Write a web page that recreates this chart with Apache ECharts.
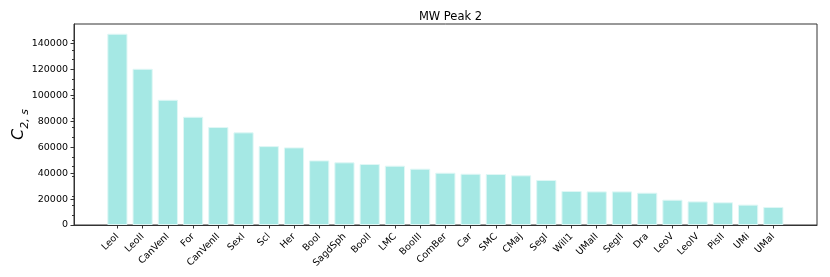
<!DOCTYPE html>
<html>
<head>
<meta charset="utf-8">
<script src="https://cdn.jsdelivr.net/npm/echarts@6/dist/echarts.min.js"></script>
<style>html,body{margin:0;padding:0;background:#fff}#c{width:830px;height:277px}</style>
</head>
<body>
<div id="c"></div>
<script>
const categories = ["LeoI","LeoII","CanVenI","For","CanVenII","SexI","Scl","Her","BooI","SagdSph","BooII","LMC","BooIII","ComBer","Car","SMC","CMaj","SegI","Will1","UMaII","SegII","Dra","LeoV","LeoIV","PisII","UMi","UMaI"];
const values = [147400,120400,96500,83400,75500,71400,60800,59800,49800,48300,47000,45700,43400,40300,39500,39300,38300,34700,26200,25900,25900,24900,19500,18200,17500,15700,13900];
const yTicks = [0,20000,40000,60000,80000,100000,120000,140000];
const titleText = "MW Peak 2";

const W = 830, H = 277;
const gridL = 74, gridR = 13, gridT = 24, gridB = 52;
const xMin = -1.72, xMax = categories.length - 1 + 1.73;
const yMax = 154900;
const plotW = W - gridL - gridR;
const barPx = 0.8 * plotW / (xMax - xMin);
const font = "DejaVu Sans";
const axisColor = '#333';
const catIdx = categories.map((_, i) => i);

const chart = echarts.init(document.getElementById('c'), null, {renderer: 'canvas'});
chart.setOption({
  animation: false,
  backgroundColor: '#fff',
  title: {
    text: titleText, left: gridL + plotW / 2, top: 6, textAlign: 'center',
    textStyle: {fontFamily: font, fontSize: 11.5, fontWeight: 'normal', color: '#000'}
  },
  grid: {left: gridL, right: gridR, top: gridT, bottom: gridB, containLabel: false, outerBoundsMode: 'none',
         show: true, borderColor: axisColor, borderWidth: 1, backgroundColor: 'transparent'},
  xAxis: {
    type: 'value', min: xMin, max: xMax,
    splitLine: {show: false},
    axisLine: {show: true, onZero: false, lineStyle: {color: axisColor}},
    axisTick: {show: true, customValues: catIdx, length: 3.5, inside: false, lineStyle: {color: axisColor}},
    axisLabel: {
      customValues: catIdx,
      formatter: v => categories[Math.round(v)] || '',
      rotate: 45, fontFamily: font, fontSize: 9.5, color: '#000', margin: 10,
      showMinLabel: true, showMaxLabel: true, hideOverlap: false
    }
  },
  yAxis: {
    type: 'value', min: 0, max: yMax,
    splitLine: {show: false},
    axisLine: {show: true, onZero: false, lineStyle: {color: axisColor}},
    axisTick: {show: true, customValues: yTicks, length: 3.5, lineStyle: {color: axisColor}},
    minorTick: {show: true, splitNumber: 4, length: 2, lineStyle: {color: axisColor}},
    axisLabel: {customValues: yTicks, formatter: v => String(v), fontFamily: font, fontSize: 9.5, color: '#000', margin: 6},
    name: '{c|C}{s|2, s}',
    nameLocation: 'middle', nameGap: 47, nameRotate: 90, nameMoveOverlap: false,
    nameTextStyle: {
      rich: {
        c: {fontFamily: font, fontStyle: 'italic', fontSize: 16, color: '#000', verticalAlign: 'bottom'},
        s: {fontFamily: font, fontStyle: 'italic', fontSize: 11, color: '#000', verticalAlign: 'bottom', padding: [0, 0, -4, 0]}
      }
    }
  },
  series: [{
    type: 'bar',
    data: values.map((v, i) => [i, v]),
    barWidth: barPx,
    itemStyle: {color: '#a5e8e4', borderColor: '#dff7f5', borderWidth: 1}
  }]
});
</script>
</body>
</html>
